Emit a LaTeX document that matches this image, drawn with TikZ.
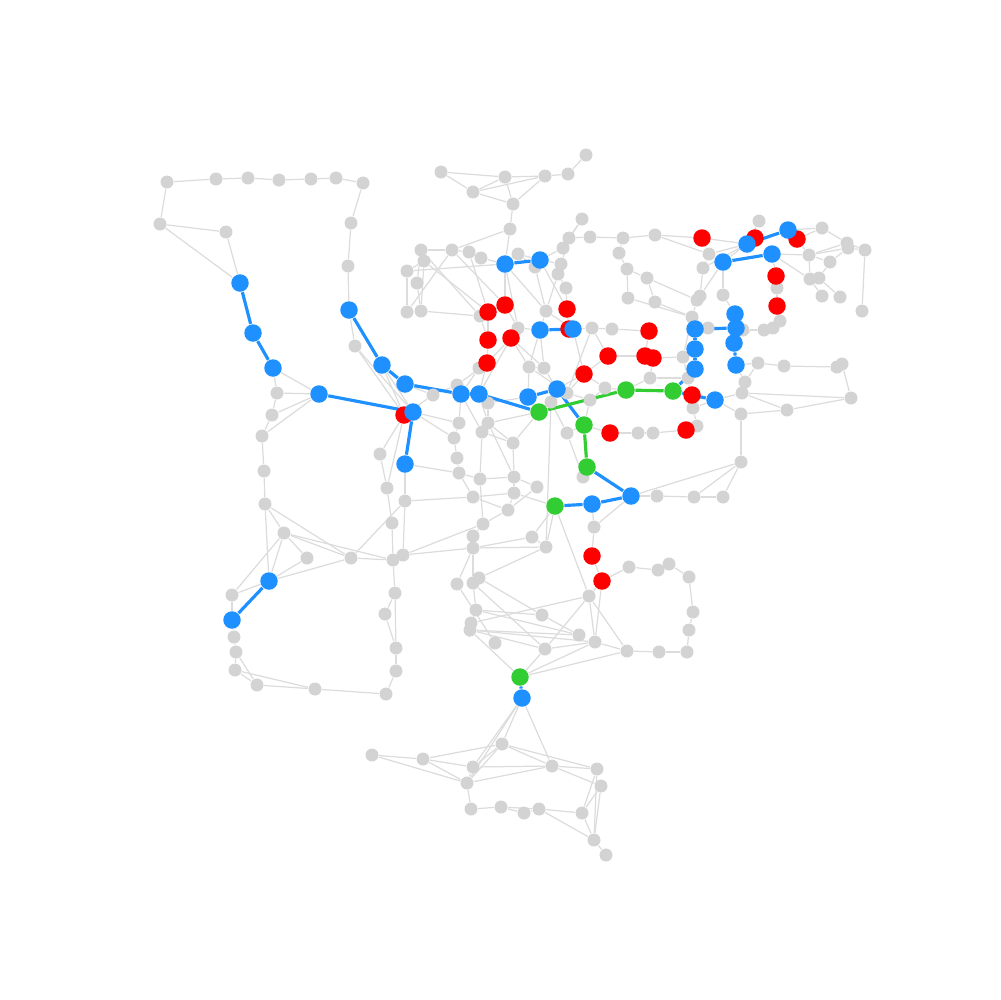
\documentclass[tikz,border=0pt]{standalone}
\usepackage{tikz}
\usetikzlibrary{backgrounds}
\definecolor{netgray}{RGB}{211,211,211}
\definecolor{linkgray}{RGB}{220,220,220}
\definecolor{netblue}{RGB}{30,144,255}
\definecolor{netred}{RGB}{255,0,0}
\definecolor{netgreen}{RGB}{50,205,50}
\begin{document}
\begin{tikzpicture}[x=0.1mm, y=-0.1mm,
	graynode/.style={circle, fill=netgray, inner sep=0pt, minimum size=1.3mm},
	hotnode/.style={circle, fill=#1, inner sep=0pt, minimum size=1.75mm},
	graylink/.style={draw=linkgray, line width=0.35pt},
	hotlink/.style={draw=#1, line width=0.9pt}]
	%Bildbereich
	\useasboundingbox (0,0) rectangle (1000,1000);
	% graue Knoten
	\foreach \x/\y in {167/182, 216/179, 248/178, 279/180, 311/179, 336/178, 363/183, 160/224, 226/232, 351/223, 348/266, 355/346,
		277/393, 272/415, 262/436, 264/471, 265/504, 284/533, 307/558, 351/558, 232/595, 234/637, 236/652, 235/670, 257/685, 315/689, 386/694, 396/671, 396/648, 385/614, 395/593, 393/560, 403/555, 392/523, 387/488, 380/454, 405/501,
		441/172, 505/177, 473/192, 545/176, 568/174, 586/155, 513/204, 510/229, 582/219, 569/238, 590/237, 623/238, 563/248, 619/253, 627/269, 628/298, 647/278, 655/235, 655/302,
		421/250, 424/261, 452/250, 469/252, 481/258, 518/254, 561/264, 558/274, 535/267, 407/271, 417/283, 566/288, 407/312, 421/311, 480/316, 546/311, 518/328, 592/328, 612/329, 479/368, 529/367, 544/368,
		433/395, 457/385, 488/403, 459/423, 488/423, 482/432, 454/438, 457/458, 459/473, 480/479, 513/443, 514/477, 514/493, 537/487, 508/510, 473/497, 483/524, 473/536, 473/548, 532/537, 546/547, 479/578, 473/583, 457/584, 476/610, 471/623, 470/630, 495/643, 542/615, 579/635, 595/642, 545/649, 589/596, 629/567, 658/570, 669/564, 689/577, 693/612, 689/630, 627/651, 659/652, 687/652,
		567/393, 551/402, 590/400, 605/388, 567/433, 638/433, 653/433, 583/477, 594/527,
		683/357, 650/378, 688/378, 693/408, 697/426, 692/317, 697/300, 700/296, 708/328, 703/268, 709/254, 723/295,
		745/382, 742/393, 741/414, 787/410, 851/398, 741/462, 723/497, 694/497, 657/496,
		758/363, 784/366, 837/367, 842/364, 743/330, 764/330, 773/328, 780/321, 777/288,
		759/221, 822/228, 847/243, 848/248, 865/250, 809/255, 830/262, 810/279, 819/278, 822/296, 840/297, 862/311,
		502/744, 372/755, 423/759, 473/767, 467/783, 552/766, 597/769, 601/786, 471/809, 501/807, 524/813, 539/809, 582/813, 594/840, 606/855}
		\node[graynode] (n\x-\y) at (\x,\y) {};
	% rote Knoten
	\foreach \x/\y in {702/238, 755/238, 797/239, 776/276, 777/306, 505/305, 488/312, 567/309, 569/329, 488/340, 511/338, 487/363, 649/331, 608/356, 645/356, 653/358, 584/374, 692/395, 686/430, 610/433, 404/415, 592/556, 602/581}
		\node[hotnode=netred] (n\x-\y) at (\x,\y) {};
	% blaue Knoten
	\foreach \x/\y in {240/283, 253/333, 273/368, 349/310, 382/365, 405/384, 319/394, 413/412, 405/464, 269/581, 232/620, 505/264, 540/260, 540/330, 573/329, 461/394, 479/394, 528/397, 557/389, 747/244, 788/230, 723/262, 772/254, 735/314, 736/328, 734/343, 736/365, 695/329, 695/349, 695/369, 715/400, 631/496, 592/504, 522/698}
		\node[hotnode=netblue] (n\x-\y) at (\x,\y) {};
	% gruene Knoten
	\foreach \x/\y in {539/412, 626/390, 673/391, 584/425, 587/467, 555/506, 520/677}
		\node[hotnode=netgreen] (n\x-\y) at (\x,\y) {};
	\begin{scope}[on background layer]
		% graue Kanten
		\foreach \a/\b/\c/\d in {167/182/216/179, 216/179/248/178, 248/178/279/180, 279/180/311/179, 311/179/336/178, 336/178/363/183, 167/182/160/224, 160/224/226/232, 160/224/240/283, 226/232/240/283, 363/183/351/223, 351/223/348/266, 348/266/349/310, 349/310/355/346, 355/346/404/415, 355/346/413/412, 382/365/404/415, 382/365/413/412, 273/368/277/393, 273/368/319/394, 277/393/319/394, 272/415/319/394, 262/436/319/394, 277/393/272/415, 272/415/262/436, 262/436/264/471, 264/471/265/504, 265/504/284/533, 265/504/351/558, 265/504/269/581, 284/533/307/558, 284/533/351/558, 284/533/393/560, 284/533/269/581, 284/533/232/595, 232/595/269/581, 307/558/269/581, 269/581/351/558, 351/558/393/560, 351/558/405/501, 232/595/232/620, 232/620/234/637, 234/637/236/652, 236/652/235/670, 236/652/257/685, 235/670/257/685, 235/670/315/689, 257/685/315/689, 315/689/386/694, 386/694/396/671, 396/671/396/648, 396/648/385/614, 385/614/395/593, 396/648/395/593, 395/593/393/560, 393/560/403/555, 393/560/392/523, 392/523/387/488, 387/488/380/454, 387/488/404/415, 380/454/404/415, 403/555/405/501, 405/501/405/464, 403/555/473/548, 403/555/483/524, 405/501/473/497, 405/464/459/473, 404/415/433/395, 413/412/459/423, 413/412/454/438,
			441/172/505/177, 441/172/473/192, 473/192/505/177, 473/192/545/176, 505/177/545/176, 505/177/513/204, 473/192/513/204, 545/176/513/204, 545/176/568/174, 568/174/586/155, 513/204/510/229, 510/229/452/250, 510/229/505/264, 582/219/569/238, 569/238/563/248, 569/238/590/237, 590/237/623/238, 623/238/655/235, 655/235/702/238, 563/248/540/260, 582/219/563/248, 569/238/561/264, 623/238/619/253, 619/253/627/269, 627/269/628/298, 627/269/647/278, 655/235/709/254, 647/278/697/300, 628/298/692/317, 655/302/692/317, 647/278/655/302,
			421/250/452/250, 452/250/469/252, 469/252/481/258, 481/258/505/264, 421/250/424/261, 424/261/407/271, 407/271/407/312, 407/312/421/311, 421/311/480/316, 424/261/421/311, 407/271/505/264, 452/250/407/312, 421/250/417/283, 417/283/421/311, 421/250/480/316, 452/250/505/305, 469/252/488/312, 424/261/488/312, 518/254/505/264, 518/254/540/260, 518/254/535/267, 505/264/505/305, 505/264/546/311, 505/264/518/328, 535/267/546/311, 540/260/567/309, 540/260/561/264, 561/264/558/274, 558/274/546/311, 558/274/566/288, 566/288/567/309, 505/305/488/312, 505/305/518/328, 488/312/488/340, 480/316/488/340, 488/340/487/363, 511/338/487/363, 518/328/511/338, 511/338/529/367, 511/338/544/368, 518/328/540/330, 546/311/540/330, 567/309/569/329, 546/311/573/329, 487/363/479/368, 479/368/461/394, 487/363/479/394, 511/338/479/394, 529/367/528/397, 544/368/557/389, 544/368/529/367, 540/330/544/368, 540/330/529/367, 573/329/592/328, 592/328/612/329, 612/329/649/331, 573/329/584/374, 592/328/608/356, 592/328/567/393, 529/367/567/393,
			405/384/433/395, 433/395/457/385, 457/385/461/394, 457/385/487/363, 488/403/479/394, 488/403/488/423, 488/403/528/397, 459/423/461/394, 482/432/488/423, 488/423/479/394, 482/432/461/394, 488/423/513/443, 539/412/513/443, 539/412/488/423, 539/412/528/397, 539/412/551/402, 551/402/557/389, 567/393/557/389, 567/393/590/400, 590/400/605/388, 605/388/626/390, 584/374/605/388, 584/374/557/389, 584/374/567/393, 584/374/608/356, 608/356/645/356, 645/356/653/358, 645/356/649/331, 653/358/683/357, 653/358/650/378, 650/378/626/390, 650/378/688/378, 688/378/695/369, 683/357/692/317, 683/357/695/349, 683/357/688/378, 692/317/697/300, 697/300/700/296, 692/317/695/329, 703/268/709/254, 703/268/700/296, 709/254/702/238, 709/254/747/244, 703/268/747/244, 723/262/723/295, 723/295/735/314, 723/262/700/296, 708/328/692/317, 708/328/695/329, 590/400/584/425, 567/433/584/425, 584/425/610/433, 610/433/638/433, 638/433/653/433, 653/433/686/430, 686/430/697/426, 697/426/693/408, 693/408/692/395, 693/408/715/400, 688/378/693/408, 567/433/551/402, 567/433/583/477,
			702/238/747/244, 747/244/759/221, 788/230/822/228, 797/239/822/228, 822/228/847/243, 847/243/865/250, 848/248/865/250, 865/250/862/311, 797/239/809/255, 809/255/847/243, 809/255/848/248, 809/255/810/279, 809/255/830/262, 830/262/848/248, 819/278/830/262, 810/279/819/278, 819/278/840/297, 810/279/822/296, 772/254/809/255, 772/254/810/279, 772/254/776/276, 776/276/777/288, 777/288/777/306, 777/306/780/321, 780/321/773/328, 773/328/764/330, 764/330/743/330, 743/330/736/328, 723/262/755/238,
			736/365/758/363, 758/363/784/366, 784/366/837/367, 837/367/842/364, 842/364/851/398, 736/365/745/382, 745/382/742/393, 742/393/715/400, 741/414/715/400, 742/393/787/410, 741/414/787/410, 787/410/851/398, 742/393/851/398, 745/382/758/363, 741/414/741/462, 741/462/694/497, 741/462/723/497, 741/462/631/496, 631/496/657/496, 657/496/694/497, 694/497/723/497,
			454/438/457/458, 457/458/459/473, 459/473/480/479, 459/423/454/438, 482/432/480/479, 480/479/483/524, 513/443/514/477, 514/477/514/493, 514/493/508/510, 514/477/537/487, 514/477/480/479, 514/493/555/506, 508/510/537/487, 508/510/483/524, 483/524/473/536, 473/536/473/548, 473/548/532/537, 532/537/546/547, 473/548/546/547, 473/497/514/493, 473/497/459/473, 473/497/508/510, 513/443/482/432, 488/423/514/477, 551/402/546/547, 546/547/479/578, 473/548/473/583, 473/583/479/578, 457/584/473/548, 457/584/495/643, 473/583/545/649, 479/578/542/615, 476/610/542/615, 476/610/579/635, 471/623/589/596, 470/630/579/635, 470/630/595/642, 470/630/545/649, 470/630/520/677, 542/615/579/635, 545/649/595/642, 545/649/589/596, 545/649/520/677, 520/677/595/642, 520/677/627/651, 589/596/595/642, 589/596/627/651, 595/642/627/651, 627/651/659/652, 659/652/687/652, 687/652/689/630, 689/630/693/612, 693/612/689/577, 689/577/669/564, 669/564/658/570, 658/570/629/567, 629/567/602/581, 602/581/595/642, 589/596/602/581, 592/556/602/581, 592/556/594/527, 594/527/592/504, 583/477/587/467, 555/506/589/596, 476/610/473/583, 471/623/476/610, 470/630/471/623, 546/547/555/506, 631/496/594/527, 532/537/555/506,
			522/698/502/744, 522/698/473/767, 522/698/467/783, 522/698/552/766, 502/744/423/759, 502/744/473/767, 502/744/467/783, 502/744/552/766, 502/744/597/769, 372/755/423/759, 372/755/467/783, 423/759/473/767, 423/759/467/783, 473/767/552/766, 467/783/552/766, 473/767/467/783, 552/766/597/769, 552/766/601/786, 597/769/582/813, 601/786/582/813, 597/769/594/840, 601/786/594/840, 467/783/471/809, 471/809/501/807, 501/807/524/813, 501/807/539/809, 524/813/539/809, 539/809/582/813, 539/809/594/840, 582/813/594/840, 594/840/606/855}
			\draw[graylink] (n\a-\b) -- (n\c-\d);
		% blaue Kanten
		\foreach \a/\b/\c/\d in {240/283/253/333, 253/333/273/368, 349/310/382/365, 382/365/405/384, 405/384/461/394, 461/394/479/394, 479/394/539/412, 528/397/557/389, 557/389/584/425, 319/394/413/412, 413/412/405/464, 269/581/232/620, 505/264/540/260, 540/330/573/329, 747/244/788/230, 723/262/772/254, 695/329/736/328, 735/314/736/328, 736/328/734/343, 734/343/736/365, 695/329/695/349, 695/349/695/369, 695/369/673/391, 673/391/715/400, 587/467/631/496, 631/496/592/504, 592/504/555/506, 520/677/522/698}
			\draw[hotlink=netblue] (n\a-\b) -- (n\c-\d);
		% gruene Kanten
		\foreach \a/\b/\c/\d in {539/412/626/390, 626/390/673/391, 584/425/587/467}
			\draw[hotlink=netgreen] (n\a-\b) -- (n\c-\d);
	\end{scope}
\end{tikzpicture}
\end{document}
